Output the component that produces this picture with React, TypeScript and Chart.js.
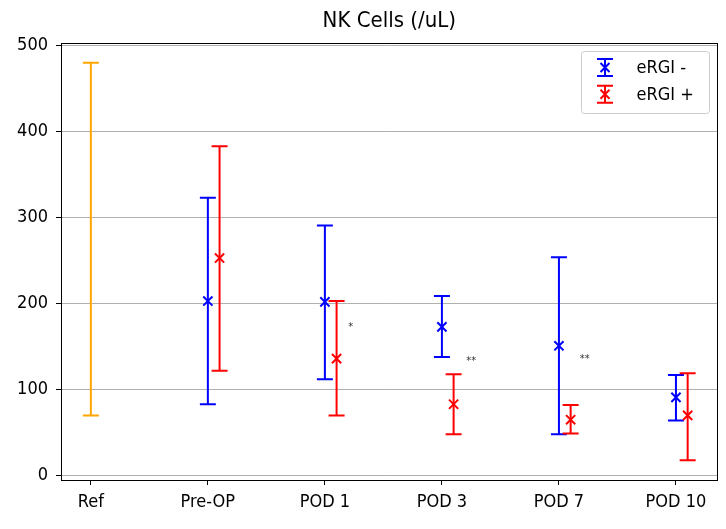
import React, { useEffect, useRef } from 'react';
import { Chart, registerables } from 'chart.js';

Chart.register(...registerables);

const categories = ['Ref', 'Pre-OP', 'POD 1', 'POD 3', 'POD 7', 'POD 10'];
const refLow = 70;
const refHigh = 480;
const groupIndex = [1, 2, 3, 4, 5];
const negMean = [203, 202, 173, 151, 91];
const negLow = [83, 112, 138, 48, 64];
const negHigh = [323, 291, 209, 254, 117];
const posMean = [253, 136, 83, 65, 70];
const posLow = [122, 70, 48, 49, 18];
const posHigh = [383, 203, 118, 82, 119];
const posOffset = 0.1;
const sigLabels = ['*', '**', '**'];
const sigX = [2.22, 3.25, 4.22];
const sigY = [173, 133, 135];
const yTicks = [0, 100, 200, 300, 400, 500];

const BLUE = '#0000ff';
const RED = '#ff0000';
const ORANGE = '#ffa500';
const FONT = '"DejaVu Sans Condensed", "DejaVu Sans", sans-serif';

export default function App() {
  const ref = useRef<HTMLCanvasElement | null>(null);

  useEffect(() => {
    document.body.style.margin = '0';
    const canvas = ref.current;
    if (!canvas) return;

    const CAP = 8;

    const drawBar = (ctx: CanvasRenderingContext2D, xs: any, ys: any, x: number, lo: number, hi: number, color: string) => {
      const px = xs.getPixelForValue(x);
      const pl = ys.getPixelForValue(lo);
      const ph = ys.getPixelForValue(hi);
      ctx.save();
      ctx.strokeStyle = color;
      ctx.lineWidth = 2;
      ctx.beginPath();
      ctx.moveTo(px, pl);
      ctx.lineTo(px, ph);
      ctx.moveTo(px - CAP, pl);
      ctx.lineTo(px + CAP, pl);
      ctx.moveTo(px - CAP, ph);
      ctx.lineTo(px + CAP, ph);
      ctx.stroke();
      ctx.restore();
    };

    const errorBars = {
      id: 'errorBars',
      beforeDatasetsDraw(chart: any) {
        const ctx = chart.ctx;
        const xs = chart.scales.x;
        const ys = chart.scales.y;
        drawBar(ctx, xs, ys, 0, refLow, refHigh, ORANGE);
        groupIndex.forEach((g, i) => {
          drawBar(ctx, xs, ys, g, negLow[i], negHigh[i], BLUE);
          drawBar(ctx, xs, ys, g + posOffset, posLow[i], posHigh[i], RED);
        });
      },
      afterDatasetsDraw(chart: any) {
        const ctx = chart.ctx;
        const xs = chart.scales.x;
        const ys = chart.scales.y;
        const a = chart.chartArea;
        ctx.save();
        // significance labels
        ctx.fillStyle = '#333333';
        ctx.font = `11px ${FONT}`;
        ctx.textAlign = 'center';
        ctx.textBaseline = 'middle';
        sigLabels.forEach((s, i) => {
          ctx.fillText(s, xs.getPixelForValue(sigX[i]), ys.getPixelForValue(sigY[i]));
        });
        // spines
        ctx.strokeStyle = '#000';
        ctx.lineWidth = 1;
        ctx.strokeRect(Math.round(a.left) + 0.5, Math.round(a.top) + 0.5, Math.round(a.right - a.left) - 1, Math.round(a.bottom - a.top));
        // legend
        const bx = a.right - 136;
        const by = a.top + 8.5;
        const bw = 128;
        const bh = 62;
        ctx.beginPath();
        const r = 3;
        ctx.moveTo(bx + r, by);
        ctx.lineTo(bx + bw - r, by);
        ctx.quadraticCurveTo(bx + bw, by, bx + bw, by + r);
        ctx.lineTo(bx + bw, by + bh - r);
        ctx.quadraticCurveTo(bx + bw, by + bh, bx + bw - r, by + bh);
        ctx.lineTo(bx + r, by + bh);
        ctx.quadraticCurveTo(bx, by + bh, bx, by + bh - r);
        ctx.lineTo(bx, by + r);
        ctx.quadraticCurveTo(bx, by, bx + r, by);
        ctx.closePath();
        ctx.fillStyle = 'rgba(255,255,255,0.8)';
        ctx.fill();
        ctx.strokeStyle = '#cccccc';
        ctx.stroke();
        const items = [
          { label: 'eRGI -', color: BLUE },
          { label: 'eRGI +', color: RED },
        ];
        items.forEach((it, i) => {
          const cy = by + 16 + i * 26.7;
          const cx = bx + 23.5;
          ctx.strokeStyle = it.color;
          ctx.lineWidth = 2;
          ctx.beginPath();
          ctx.moveTo(cx, cy - 8.5);
          ctx.lineTo(cx, cy + 8.5);
          ctx.moveTo(cx - 8, cy - 8.5);
          ctx.lineTo(cx + 8, cy - 8.5);
          ctx.moveTo(cx - 8, cy + 8.5);
          ctx.lineTo(cx + 8, cy + 8.5);
          ctx.moveTo(cx - 4.5, cy - 4.5);
          ctx.lineTo(cx + 4.5, cy + 4.5);
          ctx.moveTo(cx - 4.5, cy + 4.5);
          ctx.lineTo(cx + 4.5, cy - 4.5);
          ctx.stroke();
          ctx.fillStyle = '#000';
          ctx.font = `18px ${FONT}`;
          ctx.textAlign = 'left';
          ctx.textBaseline = 'middle';
          ctx.fillText(it.label, bx + 55, cy + 1);
        });
        ctx.restore();
      },
    };

    const chart = new Chart(canvas, {
      type: 'scatter',
      data: {
        datasets: [
          {
            label: 'eRGI -',
            data: groupIndex.map((g, i) => ({ x: g, y: negMean[i] })),
            pointStyle: 'crossRot',
            radius: 6.5,
            borderColor: BLUE,
            backgroundColor: BLUE,
            borderWidth: 2,
          },
          {
            label: 'eRGI +',
            data: groupIndex.map((g, i) => ({ x: g + posOffset, y: posMean[i] })),
            pointStyle: 'crossRot',
            radius: 6.5,
            borderColor: RED,
            backgroundColor: RED,
            borderWidth: 2,
          },
        ],
      },
      options: {
        animation: false,
        responsive: false,
        devicePixelRatio: 1,
        layout: { padding: { left: 0, right: 6, top: 0, bottom: 0 } },
        plugins: {
          legend: { display: false },
          tooltip: { enabled: false },
          title: {
            display: true,
            text: 'NK Cells (/uL)',
            color: '#000',
            fullSize: false,
            font: { family: FONT, size: 22, weight: 'normal' },
            padding: { top: 8, bottom: 8.6 },
          },
        },
        scales: {
          x: {
            type: 'linear',
            min: -0.255,
            max: 5.355,
            afterBuildTicks: (s: any) => {
              s.ticks = categories.map((_, i) => ({ value: i }));
            },
            afterFit: (s: any) => {
              s.height = 49;
            },
            ticks: {
              autoSkip: false,
              maxRotation: 0,
              color: '#000',
              padding: 7,
              font: { family: FONT, size: 18 },
              callback: (v: any) => categories[v] ?? '',
            },
            grid: {
              drawOnChartArea: false,
              drawTicks: true,
              tickLength: 5,
              tickColor: '#000',
            },
            border: { display: true, color: '#000', width: 1 },
          },
          y: {
            type: 'linear',
            min: -5.1,
            max: 503.1,
            afterBuildTicks: (s: any) => {
              s.ticks = yTicks.map((v) => ({ value: v }));
            },
            afterFit: (s: any) => {
              s.width = 61;
            },
            ticks: {
              color: '#000',
              padding: 8,
              font: { family: FONT, size: 18 },
              callback: (v: any) => String(v),
            },
            grid: {
              color: '#b0b0b0',
              lineWidth: 1,
              drawTicks: true,
              tickLength: 5,
              tickColor: '#000',
            },
            border: { display: true, color: '#000', width: 1 },
          },
        },
      },
      plugins: [errorBars],
    });

    return () => {
      chart.destroy();
    };
  }, []);

  return <canvas ref={ref} width={726} height={529} style={{ display: 'block' }} />;
}
